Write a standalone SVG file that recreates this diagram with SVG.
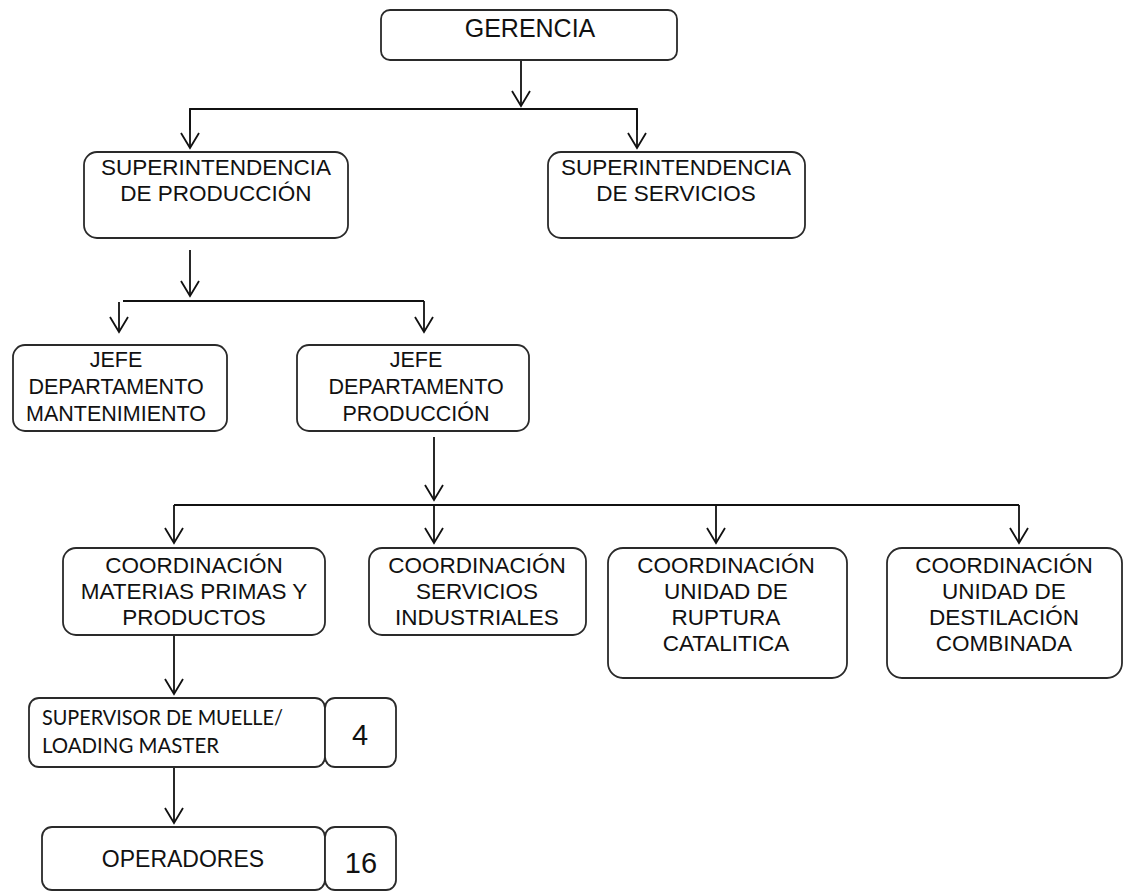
<svg xmlns="http://www.w3.org/2000/svg" width="1131" height="892" viewBox="0 0 1131 892">
<defs>
<marker id="arr" markerUnits="userSpaceOnUse" markerWidth="20" markerHeight="20" refX="0" refY="0" orient="auto" overflow="visible">
<path d="M-15,-9 L0,0 L-15,9" fill="none" stroke="#111" stroke-width="1.8" stroke-linejoin="miter"/>
</marker>
</defs>
<style>
.box{fill:#fff;stroke:#2a2a2a;stroke-width:1.8}
.t{font-family:"Liberation Sans",Arial,sans-serif;fill:#111;text-anchor:middle}
.c{fill:none;stroke:#111;stroke-width:1.8}
.a{fill:none;stroke:#111;stroke-width:1.8;marker-end:url(#arr)}
.cal{font-family:Lato,"Open Sans",sans-serif;fill:#111}
</style>
<rect width="1131" height="892" fill="#fff"/>
<g id="connectors">
<line class="a" x1="521" y1="60" x2="521" y2="106"/>
<polyline class="c" points="190,130 190,109 637,109 637,130"/>
<line class="a" x1="190" y1="109" x2="190" y2="148"/>
<line class="a" x1="637" y1="109" x2="637" y2="148"/>
<line class="a" x1="190" y1="250" x2="190" y2="296"/>
<line class="c" x1="123" y1="301" x2="424" y2="301"/>
<line class="a" x1="119" y1="302" x2="119" y2="332"/>
<line class="a" x1="424" y1="301" x2="424" y2="332"/>
<line class="a" x1="434" y1="437" x2="434" y2="500"/>
<line class="c" x1="174" y1="505" x2="1019" y2="505"/>
<line class="a" x1="174" y1="505" x2="174" y2="543"/>
<line class="a" x1="434" y1="505" x2="434" y2="543"/>
<line class="a" x1="716" y1="505" x2="716" y2="543"/>
<line class="a" x1="1019" y1="505" x2="1019" y2="543"/>
<line class="a" x1="174" y1="635" x2="174" y2="694"/>
<line class="a" x1="174" y1="767" x2="174" y2="823"/>
</g>
<g id="gerencia">
<rect class="box" x="381" y="10" width="296" height="50" rx="9"/>
<text class="t" x="530" y="37" font-size="25">GERENCIA</text>
</g>
<g id="sup-produccion">
<rect class="box" x="84" y="152" width="264" height="86" rx="13"/>
<text class="t" x="216" y="175" font-size="22.5">SUPERINTENDENCIA</text>
<text class="t" x="216" y="201" font-size="22.5">DE PRODUCCIÓN</text>
</g>
<g id="sup-servicios">
<rect class="box" x="548" y="152" width="257" height="86" rx="13"/>
<text class="t" x="676" y="175" font-size="22.5">SUPERINTENDENCIA</text>
<text class="t" x="676" y="201" font-size="22.5">DE SERVICIOS</text>
</g>
<g id="jefe-mantenimiento">
<rect class="box" x="13" y="345" width="214" height="86" rx="12"/>
<text class="t" x="116" y="367" font-size="21.5">JEFE</text>
<text class="t" x="116" y="394" font-size="21.5">DEPARTAMENTO</text>
<text class="t" x="116" y="421" font-size="21.5">MANTENIMIENTO</text>
</g>
<g id="jefe-produccion">
<rect class="box" x="297" y="345" width="232" height="86" rx="12"/>
<text class="t" x="416" y="367" font-size="21.5">JEFE</text>
<text class="t" x="416" y="394" font-size="21.5">DEPARTAMENTO</text>
<text class="t" x="416" y="421" font-size="21.5">PRODUCCIÓN</text>
</g>
<g id="coord-materias">
<rect class="box" x="63" y="548" width="262" height="87" rx="13"/>
<text class="t" x="194" y="573" font-size="22.5">COORDINACIÓN</text>
<text class="t" x="194" y="599" font-size="22.5">MATERIAS PRIMAS Y</text>
<text class="t" x="194" y="625" font-size="22.5">PRODUCTOS</text>
</g>
<g id="coord-servicios">
<rect class="box" x="369" y="548" width="217" height="87" rx="13"/>
<text class="t" x="477" y="573" font-size="22.5">COORDINACIÓN</text>
<text class="t" x="477" y="599" font-size="22.5">SERVICIOS</text>
<text class="t" x="477" y="625" font-size="22.5">INDUSTRIALES</text>
</g>
<g id="coord-ruptura">
<rect class="box" x="608" y="548" width="239" height="130" rx="15"/>
<text class="t" x="726" y="573" font-size="22.5">COORDINACIÓN</text>
<text class="t" x="726" y="599" font-size="22.5">UNIDAD DE</text>
<text class="t" x="726" y="625" font-size="22.5">RUPTURA</text>
<text class="t" x="726" y="651" font-size="22.5">CATALITICA</text>
</g>
<g id="coord-destilacion">
<rect class="box" x="887" y="548" width="235" height="130" rx="15"/>
<text class="t" x="1004" y="573" font-size="22.5">COORDINACIÓN</text>
<text class="t" x="1004" y="599" font-size="22.5">UNIDAD DE</text>
<text class="t" x="1004" y="625" font-size="22.5">DESTILACIÓN</text>
<text class="t" x="1004" y="651" font-size="22.5">COMBINADA</text>
</g>
<g id="supervisor">
<rect class="box" x="29" y="698" width="296" height="69" rx="10"/>
<text class="cal" x="42" y="725" font-size="21" textLength="241" lengthAdjust="spacingAndGlyphs">SUPERVISOR DE MUELLE/</text>
<text class="cal" x="42" y="753" font-size="21" textLength="177" lengthAdjust="spacingAndGlyphs">LOADING MASTER</text>
</g>
<g id="supervisor-count">
<rect class="box" x="325" y="698" width="71" height="69" rx="10"/>
<text class="t" x="360" y="745" font-size="29">4</text>
</g>
<g id="operadores">
<rect class="box" x="42" y="827" width="283" height="63" rx="10"/>
<text class="t" x="183" y="867" font-size="23">OPERADORES</text>
</g>
<g id="operadores-count">
<rect class="box" x="325" y="827" width="71" height="63" rx="10"/>
<text class="t" x="361" y="873" font-size="29">16</text>
</g>
</svg>
